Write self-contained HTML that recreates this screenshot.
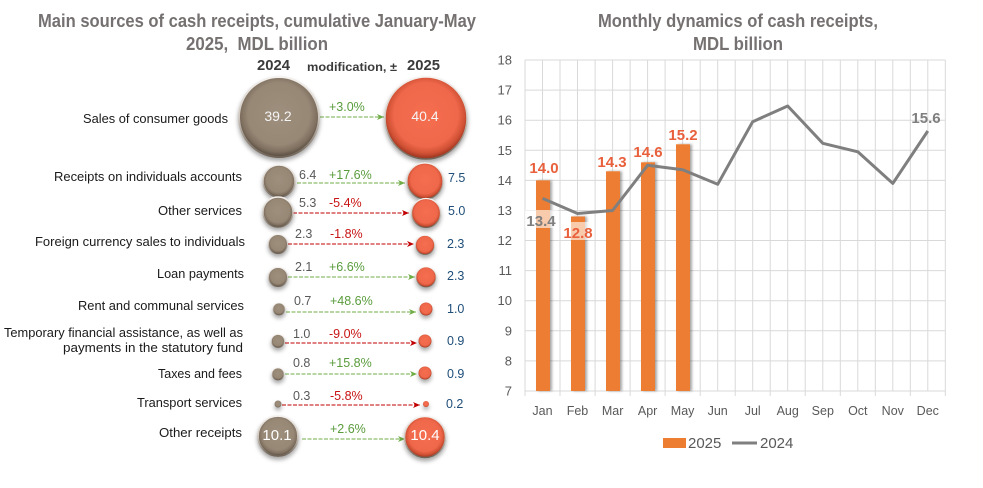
<!DOCTYPE html>
<html><head><meta charset="utf-8"><style>
html,body{margin:0;padding:0;background:#fff;}
svg{display:block;font-family:"Liberation Sans",Arial,sans-serif;}
</style></head><body>
<svg width="983" height="488" viewBox="0 0 983 488" xmlns="http://www.w3.org/2000/svg">
<defs>
  <radialGradient id="g24" cx="50%" cy="46%" r="54%">
    <stop offset="0" stop-color="#9e8f7d"/>
    <stop offset="0.72" stop-color="#978775"/>
    <stop offset="0.88" stop-color="#7e6f5f"/>
    <stop offset="1" stop-color="#54493d"/>
  </radialGradient>
  <radialGradient id="g25" cx="50%" cy="46%" r="54%">
    <stop offset="0" stop-color="#f56e50"/>
    <stop offset="0.72" stop-color="#f0684b"/>
    <stop offset="0.88" stop-color="#cf5034"/>
    <stop offset="1" stop-color="#93301c"/>
  </radialGradient>
  <linearGradient id="rim" x1="0" y1="0" x2="0" y2="1">
    <stop offset="0" stop-color="#f4f1ee"/>
    <stop offset="0.5" stop-color="#cfc8c0"/>
    <stop offset="1" stop-color="#6e6256"/>
  </linearGradient>
  <filter id="sh" x="-50%" y="-50%" width="200%" height="200%">
    <feDropShadow dx="0" dy="3" stdDeviation="2.2" flood-color="#000" flood-opacity="0.35"/>
  </filter>
  <filter id="bsh" x="-50%" y="-5%" width="200%" height="110%">
    <feDropShadow dx="2" dy="0" stdDeviation="1.4" flood-color="#000" flood-opacity="0.35"/>
  </filter>
  <marker id="ag" markerWidth="8" markerHeight="8" refX="7" refY="4" orient="auto" markerUnits="userSpaceOnUse">
    <path d="M0,1 L7,4 L0,7 L2,4 Z" fill="#70ad47"/>
  </marker>
  <marker id="ar" markerWidth="8" markerHeight="8" refX="7" refY="4" orient="auto" markerUnits="userSpaceOnUse">
    <path d="M0,1 L7,4 L0,7 L2,4 Z" fill="#c00000"/>
  </marker>
</defs>

<!-- ============ LEFT PANEL ============ -->
<g fill="#767171" font-weight="bold" font-size="18">
  <text x="38" y="27" textLength="438" lengthAdjust="spacingAndGlyphs">Main sources of cash receipts, cumulative January-May</text>
  <text x="186" y="50" textLength="142" lengthAdjust="spacingAndGlyphs" style="white-space:pre">2025,  MDL billion</text>
</g>
<g fill="#3b3b3b" font-weight="bold">
  <text x="257" y="70" font-size="15" textLength="33" lengthAdjust="spacingAndGlyphs">2024</text>
  <text x="307" y="71" font-size="12" textLength="90" lengthAdjust="spacingAndGlyphs">modification, ±</text>
  <text x="407" y="70" font-size="15" textLength="33" lengthAdjust="spacingAndGlyphs">2025</text>
</g>

<!-- category labels -->
<g fill="#1a1a1a" font-size="13">
  <text x="83" y="123" textLength="145" lengthAdjust="spacingAndGlyphs">Sales of consumer goods</text>
  <text x="54" y="181" textLength="188" lengthAdjust="spacingAndGlyphs">Receipts on individuals accounts</text>
  <text x="158" y="215" textLength="84" lengthAdjust="spacingAndGlyphs">Other services</text>
  <text x="35" y="246" textLength="210" lengthAdjust="spacingAndGlyphs">Foreign currency sales to individuals</text>
  <text x="157" y="278" textLength="87" lengthAdjust="spacingAndGlyphs">Loan payments</text>
  <text x="78" y="310" textLength="166" lengthAdjust="spacingAndGlyphs">Rent and communal services</text>
  <text x="4" y="337" textLength="239" lengthAdjust="spacingAndGlyphs">Temporary financial assistance, as well as</text>
  <text x="63" y="352" textLength="180" lengthAdjust="spacingAndGlyphs">payments in the statutory fund</text>
  <text x="158" y="378" textLength="84" lengthAdjust="spacingAndGlyphs">Taxes and fees</text>
  <text x="137" y="407" textLength="105" lengthAdjust="spacingAndGlyphs">Transport services</text>
  <text x="159" y="437" textLength="83" lengthAdjust="spacingAndGlyphs">Other receipts</text>
</g>

<!-- arrows -->
<g fill="none" stroke-width="1" stroke-dasharray="4,1.5">
  <line x1="320" y1="117" x2="384" y2="117" stroke="#70ad47" marker-end="url(#ag)"/>
  <line x1="297" y1="183" x2="405" y2="183" stroke="#70ad47" marker-end="url(#ag)"/>
  <line x1="293" y1="213" x2="409" y2="213" stroke="#c00000" marker-end="url(#ar)"/>
  <line x1="288" y1="244" x2="414" y2="244" stroke="#c00000" marker-end="url(#ar)"/>
  <line x1="288" y1="277" x2="415" y2="277" stroke="#70ad47" marker-end="url(#ag)"/>
  <line x1="286" y1="312" x2="416" y2="312" stroke="#70ad47" marker-end="url(#ag)"/>
  <line x1="285" y1="343" x2="417" y2="343" stroke="#c00000" marker-end="url(#ar)"/>
  <line x1="285" y1="374" x2="417" y2="374" stroke="#70ad47" marker-end="url(#ag)"/>
  <line x1="282" y1="405" x2="420" y2="405" stroke="#c00000" marker-end="url(#ar)"/>
  <line x1="302" y1="439" x2="405" y2="439" stroke="#70ad47" marker-end="url(#ag)"/>
</g>

<!-- bubbles 2024 -->
<g filter="url(#sh)">
  <circle cx="279" cy="117" r="40" fill="url(#g24)" stroke="url(#rim)" stroke-width="2"/>
  <circle cx="279" cy="181" r="16" fill="url(#g24)" stroke="url(#rim)" stroke-width="1.5"/>
  <circle cx="278" cy="212" r="15" fill="url(#g24)" stroke="url(#rim)" stroke-width="1.5"/>
  <circle cx="278" cy="244" r="9.5" fill="url(#g24)" stroke="url(#rim)" stroke-width="1"/>
  <circle cx="278" cy="277" r="9.5" fill="url(#g24)" stroke="url(#rim)" stroke-width="1"/>
  <circle cx="279" cy="309" r="6" fill="url(#g24)" stroke="url(#rim)" stroke-width="0.8"/>
  <circle cx="278" cy="341" r="6.5" fill="url(#g24)" stroke="url(#rim)" stroke-width="0.8"/>
  <circle cx="278" cy="374" r="6" fill="url(#g24)" stroke="url(#rim)" stroke-width="0.8"/>
  <circle cx="278" cy="404" r="3.5" fill="url(#g24)"/>
  <circle cx="278" cy="436" r="20" fill="url(#g24)" stroke="url(#rim)" stroke-width="1.8"/>
</g>
<!-- bubbles 2025 -->
<g filter="url(#sh)">
  <circle cx="426" cy="118" r="41" fill="url(#g25)" stroke="url(#rim)" stroke-width="1.5"/>
  <circle cx="425" cy="181" r="18" fill="url(#g25)" stroke="url(#rim)" stroke-width="1.2"/>
  <circle cx="426" cy="213" r="14.5" fill="url(#g25)" stroke="url(#rim)" stroke-width="1.2"/>
  <circle cx="425" cy="245" r="9.5" fill="url(#g25)" stroke="url(#rim)" stroke-width="0.8"/>
  <circle cx="426" cy="277" r="10" fill="url(#g25)" stroke="url(#rim)" stroke-width="0.8"/>
  <circle cx="426" cy="309" r="6.5" fill="url(#g25)"/>
  <circle cx="425" cy="341" r="6.5" fill="url(#g25)"/>
  <circle cx="425" cy="373" r="6.5" fill="url(#g25)"/>
  <circle cx="426" cy="404" r="3" fill="url(#g25)"/>
  <circle cx="425" cy="437" r="20.5" fill="url(#g25)" stroke="url(#rim)" stroke-width="1.5"/>
</g>

<!-- values inside big bubbles -->
<g fill="#f5f5f5" text-anchor="middle">
  <text x="278" y="121" font-size="14">39.2</text>
  <text x="425" y="121" font-size="14">40.4</text>
  <text x="277" y="440" font-size="15" fill="#ffffff">10.1</text>
  <text x="425" y="440" font-size="15" fill="#ffffff">10.4</text>
</g>

<!-- 2024 small values -->
<g fill="#595959" font-size="12.5">
  <text x="299" y="179">6.4</text>
  <text x="299" y="207">5.3</text>
  <text x="295" y="238">2.3</text>
  <text x="295" y="271">2.1</text>
  <text x="294" y="305">0.7</text>
  <text x="293" y="338">1.0</text>
  <text x="293" y="367">0.8</text>
  <text x="293" y="400">0.3</text>
</g>
<!-- percent -->
<g font-size="12.5">
  <text x="329" y="111" fill="#5a9c3c">+3.0%</text>
  <text x="329" y="179" fill="#5a9c3c">+17.6%</text>
  <text x="329" y="207" fill="#c81414">-5.4%</text>
  <text x="330" y="238" fill="#c81414">-1.8%</text>
  <text x="329" y="271" fill="#5a9c3c">+6.6%</text>
  <text x="330" y="305" fill="#5a9c3c">+48.6%</text>
  <text x="329" y="338" fill="#c81414">-9.0%</text>
  <text x="329" y="367" fill="#5a9c3c">+15.8%</text>
  <text x="330" y="400" fill="#c81414">-5.8%</text>
  <text x="330" y="433" fill="#5a9c3c">+2.6%</text>
</g>
<!-- 2025 values -->
<g fill="#1f4e79" font-size="12.5">
  <text x="448" y="182">7.5</text>
  <text x="448" y="215">5.0</text>
  <text x="447" y="248">2.3</text>
  <text x="447" y="280">2.3</text>
  <text x="447" y="313">1.0</text>
  <text x="447" y="345">0.9</text>
  <text x="447" y="378">0.9</text>
  <text x="446" y="408">0.2</text>
</g>

<!-- ============ RIGHT PANEL ============ -->
<g fill="#767171" font-weight="bold" font-size="18">
  <text x="598" y="27" textLength="280" lengthAdjust="spacingAndGlyphs">Monthly dynamics of cash receipts,</text>
  <text x="693" y="50" textLength="90" lengthAdjust="spacingAndGlyphs">MDL billion</text>
</g>

<!-- gridlines -->
<g stroke="#d9d9d9" stroke-width="1">
  <line x1="525" y1="60" x2="945.3" y2="60"/>
  <line x1="525" y1="90.1" x2="945.3" y2="90.1"/>
  <line x1="525" y1="120.2" x2="945.3" y2="120.2"/>
  <line x1="525" y1="150.3" x2="945.3" y2="150.3"/>
  <line x1="525" y1="180.4" x2="945.3" y2="180.4"/>
  <line x1="525" y1="210.5" x2="945.3" y2="210.5"/>
  <line x1="525" y1="240.5" x2="945.3" y2="240.5"/>
  <line x1="525" y1="270.6" x2="945.3" y2="270.6"/>
  <line x1="525" y1="300.7" x2="945.3" y2="300.7"/>
  <line x1="525" y1="330.8" x2="945.3" y2="330.8"/>
  <line x1="525" y1="360.9" x2="945.3" y2="360.9"/>
  <line x1="525" y1="391" x2="945.3" y2="391"/>
  <line x1="525" y1="60" x2="525" y2="396"/>
  <line x1="542.5" y1="60" x2="542.5" y2="391"/>
  <line x1="560" y1="60" x2="560" y2="396"/>
  <line x1="577.5" y1="60" x2="577.5" y2="391"/>
  <line x1="595.1" y1="60" x2="595.1" y2="396"/>
  <line x1="612.6" y1="60" x2="612.6" y2="391"/>
  <line x1="630.1" y1="60" x2="630.1" y2="396"/>
  <line x1="647.6" y1="60" x2="647.6" y2="391"/>
  <line x1="665.1" y1="60" x2="665.1" y2="396"/>
  <line x1="682.6" y1="60" x2="682.6" y2="391"/>
  <line x1="700.2" y1="60" x2="700.2" y2="396"/>
  <line x1="717.7" y1="60" x2="717.7" y2="391"/>
  <line x1="735.2" y1="60" x2="735.2" y2="396"/>
  <line x1="752.7" y1="60" x2="752.7" y2="391"/>
  <line x1="770.2" y1="60" x2="770.2" y2="396"/>
  <line x1="787.7" y1="60" x2="787.7" y2="391"/>
  <line x1="805.2" y1="60" x2="805.2" y2="396"/>
  <line x1="822.8" y1="60" x2="822.8" y2="391"/>
  <line x1="840.3" y1="60" x2="840.3" y2="396"/>
  <line x1="857.8" y1="60" x2="857.8" y2="391"/>
  <line x1="875.3" y1="60" x2="875.3" y2="396"/>
  <line x1="892.8" y1="60" x2="892.8" y2="391"/>
  <line x1="910.3" y1="60" x2="910.3" y2="396"/>
  <line x1="927.8" y1="60" x2="927.8" y2="391"/>
  <line x1="945.3" y1="60" x2="945.3" y2="396"/>
</g>

<!-- y labels -->
<g fill="#595959" font-size="13" text-anchor="end">
  <text x="512" y="64.5">18</text>
  <text x="512" y="94.6">17</text>
  <text x="512" y="124.7">16</text>
  <text x="512" y="154.8">15</text>
  <text x="512" y="184.9">14</text>
  <text x="512" y="215">13</text>
  <text x="512" y="245">12</text>
  <text x="512" y="275.1">11</text>
  <text x="512" y="305.2">10</text>
  <text x="512" y="335.3">9</text>
  <text x="512" y="365.4">8</text>
  <text x="512" y="395.5">7</text>
</g>
<!-- x labels -->
<g fill="#595959" font-size="12.5" text-anchor="middle">
  <text x="542.5" y="415">Jan</text>
  <text x="577.5" y="415">Feb</text>
  <text x="612.6" y="415">Mar</text>
  <text x="647.6" y="415">Apr</text>
  <text x="682.6" y="415">May</text>
  <text x="717.7" y="415">Jun</text>
  <text x="752.7" y="415">Jul</text>
  <text x="787.7" y="415">Aug</text>
  <text x="822.8" y="415">Sep</text>
  <text x="857.8" y="415">Oct</text>
  <text x="892.8" y="415">Nov</text>
  <text x="927.8" y="415">Dec</text>
</g>

<!-- bars 2025 -->
<g fill="#ed7d31" filter="url(#bsh)">
  <rect x="536" y="180.4" width="14" height="210.6"/>
  <rect x="571" y="216.5" width="14" height="174.5"/>
  <rect x="606" y="171.3" width="14" height="219.7"/>
  <rect x="641" y="162.3" width="14" height="228.7"/>
  <rect x="676" y="144.3" width="14" height="246.7"/>
</g>

<!-- line 2024 -->
<polyline fill="none" stroke="#7f7f7f" stroke-width="3" stroke-linejoin="round"
  points="542.5,198.4 577.5,213.5 612.6,210.5 647.6,165.3 682.6,169.8 717.7,184.3 752.7,121.7 787.7,106 822.8,143.3 857.8,151.8 892.8,183.4 927.8,131"/>

<!-- data labels -->
<rect x="525" y="210" width="33" height="18" fill="#ffffff" fill-opacity="0.6"/>
<rect x="563" y="222" width="31" height="18" fill="#ffffff" fill-opacity="0.6"/>
<g font-weight="bold" font-size="15" text-anchor="middle">
  <text x="544" y="173" fill="#e9603c">14.0</text>
  <text x="612" y="167" fill="#e9603c">14.3</text>
  <text x="648" y="157" fill="#e9603c">14.6</text>
  <text x="683" y="140" fill="#e9603c">15.2</text>
  <text x="578" y="238" fill="#e9603c">12.8</text>
  <text x="541" y="226" fill="#7f7f7f">13.4</text>
  <text x="926" y="123" fill="#7f7f7f">15.6</text>
</g>

<!-- legend -->
<rect x="663" y="438" width="23" height="10" fill="#ed7d31"/>
<text x="688" y="448" font-size="15" fill="#595959">2025</text>
<line x1="732" y1="443" x2="757" y2="443" stroke="#7f7f7f" stroke-width="3"/>
<text x="760" y="448" font-size="15" fill="#595959">2024</text>
</svg>
</body></html>
